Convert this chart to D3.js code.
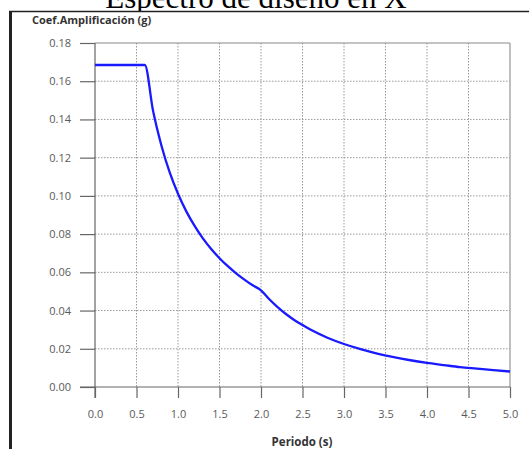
<!DOCTYPE html>
<html>
<head>
<meta charset="utf-8">
<script src="https://d3js.org/d3.v7.min.js"></script>
<style>
  body { margin: 0; background: #fff; }
  svg { display: block; }
  .tick text { font-family: "Open Sans", sans-serif; font-size: 11px; fill: #5a5a5a; }
  .grid line { stroke: #999; stroke-dasharray: 1.5,1.5; }
</style>
</head>
<body>
<svg id="chart" width="529" height="449"></svg>
<script>
// periodo (s) and coef. amplificacion (g)
const periods = [0.0, 0.1, 0.2, 0.3, 0.4, 0.5, 0.6, 0.7, 0.8, 0.9, 1.0, 1.1, 1.2, 1.3, 1.4, 1.5,
                 1.6, 1.7, 1.8, 1.9, 2.0, 2.1, 2.2, 2.3, 2.4, 2.5, 2.6, 2.8, 3.0, 3.2, 3.4,
                 3.6, 3.8, 4.0, 4.2, 4.4, 4.6, 4.8, 5.0];
const coefs = [0.1685, 0.1685, 0.1685, 0.1685, 0.1685, 0.1685, 0.1685, 0.1444, 0.1264, 0.1123,
               0.1011, 0.0919, 0.0843, 0.0778, 0.0722, 0.0674, 0.0632, 0.0595, 0.0562, 0.0532,
               0.0506, 0.0459, 0.0418, 0.0382, 0.0351, 0.0324, 0.0299, 0.0258, 0.0225, 0.0198,
               0.0175, 0.0156, 0.0140, 0.0126, 0.0115, 0.0104, 0.0096, 0.0088, 0.0081];
const xTicks = [0, 0.5, 1, 1.5, 2, 2.5, 3, 3.5, 4, 4.5, 5];
const yTicks = [0, 0.02, 0.04, 0.06, 0.08, 0.10, 0.12, 0.14, 0.16, 0.18];

let svg = d3.select("svg#chart");

const plotLeft = 95, plotRight = 510, plotTop = 43, plotBottom = 387;

const x = d3.scaleLinear().domain([0, 5]).range([plotLeft, plotRight]);
const y = d3.scaleLinear().domain([0, 0.18]).range([plotBottom, plotTop]);

// title, cut at the top like the original screenshot
svg.append("text")
  .attr("x", 256).attr("y", 8)
  .attr("text-anchor", "middle")
  .style("font-family", "'Liberation Serif', 'Times New Roman', serif")
  .style("font-size", "31px")
  .text("Espectro de diseño en X");

// frame of the screenshot
svg.append("rect").attr("x", 9).attr("y", 11).attr("width", 520).attr("height", 4)
  .attr("fill", "#fff");
svg.append("line").attr("x1", 9).attr("x2", 529).attr("y1", 11.5).attr("y2", 11.5)
  .attr("stroke", "#222").attr("stroke-width", 1.5);
svg.append("line").attr("x1", 10.5).attr("x2", 10.5).attr("y1", 11).attr("y2", 449)
  .attr("stroke", "#222").attr("stroke-width", 3);

// grid
let grid = svg.append("g").attr("class", "grid");
grid.selectAll("line.v").data(xTicks.slice(1, -1)).join("line").attr("class", "v")
  .attr("x1", d => x(d)).attr("x2", d => x(d)).attr("y1", plotTop).attr("y2", plotBottom);
grid.selectAll("line.h").data(yTicks.slice(1, -1)).join("line").attr("class", "h")
  .attr("x1", plotLeft).attr("x2", plotRight).attr("y1", d => y(d)).attr("y2", d => y(d));

// plot frame
svg.append("line").attr("x1", plotLeft).attr("x2", plotRight).attr("y1", plotTop).attr("y2", plotTop)
  .attr("stroke", "#888").attr("stroke-width", 1);
svg.append("line").attr("x1", plotRight).attr("x2", plotRight).attr("y1", plotTop).attr("y2", plotBottom)
  .attr("stroke", "#aaa").attr("stroke-width", 1.5);

// axes
let yAxis = d3.axisLeft(y).tickValues(yTicks).tickFormat(d3.format(".2f"))
  .tickSize(15).tickPadding(9);
let yAxisG = svg.append("g").attr("transform", `translate(${plotLeft},0)`).call(yAxis);
yAxisG.select(".domain").remove();
yAxisG.selectAll(".tick line").attr("stroke", "#666").attr("stroke-width", 1.2);
svg.append("line").attr("x1", plotLeft).attr("x2", plotLeft).attr("y1", plotTop).attr("y2", plotBottom + 11)
  .attr("stroke", "#666").attr("stroke-width", 1.2);

let xAxis = d3.axisBottom(x).tickValues(xTicks).tickFormat(d3.format(".1f"))
  .tickSize(11).tickPadding(12);
let xAxisG = svg.append("g").attr("transform", `translate(0,${plotBottom})`).call(xAxis);
xAxisG.select(".domain").remove();
xAxisG.selectAll(".tick line").attr("stroke", "#666").attr("stroke-width", 1.2);
svg.append("line").attr("x1", 80).attr("x2", plotRight).attr("y1", plotBottom).attr("y2", plotBottom)
  .attr("stroke", "#666").attr("stroke-width", 1.2);

// curve
const pts = periods.map((p, i) => [p, coefs[i]]);
svg.append("path")
  .datum(pts)
  .attr("fill", "none")
  .attr("stroke", "#1a1aff")
  .attr("stroke-width", 2.3)
  .attr("d", d3.line().x(d => x(d[0])).y(d => y(d[1])).curve(d3.curveMonotoneX));

// axis titles
svg.append("text")
  .attr("x", 32).attr("y", 24)
  .style("font-family", "'Open Sans', sans-serif")
  .style("font-weight", "bold").style("font-size", "11px").style("fill", "#333")
  .text("Coef.Amplificación (g)");

svg.append("text")
  .attr("x", 302).attr("y", 446)
  .attr("text-anchor", "middle")
  .style("font-family", "'Open Sans', sans-serif")
  .style("font-weight", "bold").style("font-size", "11.5px").style("fill", "#333")
  .text("Periodo (s)");
</script>
</body>
</html>
